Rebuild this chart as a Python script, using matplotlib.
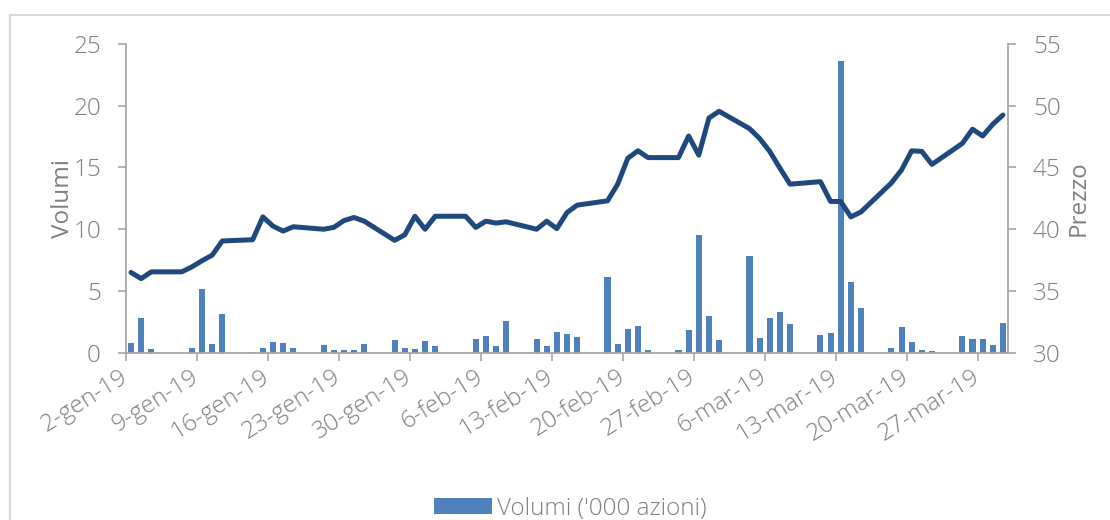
import datetime as dt
import numpy as np
import matplotlib
matplotlib.use("Agg")
import matplotlib.pyplot as plt
import matplotlib.dates as mdates
from matplotlib.lines import Line2D

# trading days (gen-mar 2019)
giorni_gen = [2, 3, 4, 7, 8, 9, 10, 11, 14, 15, 16, 17, 18, 21, 22, 23, 24, 25, 28, 29, 30, 31]
giorni_feb = [1, 4, 5, 6, 7, 8, 11, 12, 13, 14, 15, 18, 19, 20, 21, 22, 25, 26, 27, 28]
giorni_mar = [1, 4, 5, 6, 7, 8, 11, 12, 13, 14, 15, 18, 19, 20, 21, 22, 25, 26, 27, 28, 29]

prezzo = [36.5, 36.0, 36.55, 36.55, 36.95, 37.45, 37.9, 39.05, 39.15, 41.0, 40.25,
          39.85, 40.2, 40.0, 40.15, 40.7, 40.95, 40.65, 39.1, 39.55, 41.05, 40.0,
          41.05, 41.05, 40.15, 40.65, 40.5, 40.6, 40.0, 40.65, 40.05, 41.35, 41.95,
          42.3, 43.65, 45.75, 46.35, 45.8, 45.8, 47.55, 46.0, 49.0,
          49.55, 48.15, 47.35, 46.3, 44.95, 43.65, 43.85, 42.25, 42.25, 41.0, 41.4,
          43.75, 44.8, 46.35, 46.3, 45.25, 46.95, 48.1, 47.55, 48.5, 49.25]

volumi = [0.76, 2.78, 0.27, 0.0, 0.40, 5.2, 0.7, 3.1, 0.08, 0.35, 0.87, 0.76, 0.40,
          0.62, 0.22, 0.19, 0.22, 0.68, 1.0, 0.35, 0.27, 0.95,
          0.52, 0.0, 1.11, 1.38, 0.52, 2.57, 1.08, 0.57, 1.65, 1.51, 1.25, 6.15,
          0.68, 1.92, 2.14, 0.22, 0.22, 1.81, 9.53, 2.97,
          1.03, 7.85, 1.16, 2.81, 3.30, 2.30, 1.46, 1.62, 23.64, 5.72, 3.59, 0.40,
          2.06, 0.89, 0.22, 0.14, 1.38, 1.11, 1.11, 0.62, 2.40]

mesi = ["gen", "feb", "mar"]

date = ([dt.date(2019, 1, d) for d in giorni_gen] + [dt.date(2019, 2, d) for d in giorni_feb]
        + [dt.date(2019, 3, d) for d in giorni_mar])
x = mdates.date2num(date)

grigio = "#808080"
asse = "#A6A6A6"
fs = 17.5
plt.rcParams["font.family"] = ["Open Sans", "DejaVu Sans"]
plt.rcParams["font.weight"] = "light"

fig = plt.figure(figsize=(11.1, 5.2), dpi=100)
ax = fig.add_axes([0.1135, 0.3217, 0.7946, 0.5937])
ax2 = ax.twinx()

bars = ax.bar(x, volumi, width=0.6, color="#4F81BD", label="Volumi ('000 azioni)")
ax2.plot(x, prezzo, color="#1F497D", lw=3.6, solid_capstyle="round", solid_joinstyle="round")

ax.set_xlim(x[0] - 0.5, x[-1] + 0.5)
ax.set_ylim(0, 25)
ax.set_yticks(range(0, 26, 5))
ax2.set_ylim(30, 55)
ax2.set_yticks(range(30, 56, 5))

tick_date = [date[0] + dt.timedelta(days=7 * k) for k in range(13)]
ax.set_xticks(mdates.date2num(tick_date) - 0.5)
ax.set_xticklabels([f"{d.day}-{mesi[d.month - 1]}-{d.strftime('%y')}" for d in tick_date],
                   rotation=32, ha="right", va="center", rotation_mode="anchor")

for a in (ax, ax2):
    for s in a.spines.values():
        s.set_visible(False)
    a.tick_params(colors=asse, labelcolor=grigio, labelsize=fs, length=6, width=1.2)
ax.spines["left"].set_visible(True)
ax.spines["bottom"].set_visible(True)
ax2.spines["right"].set_visible(True)
for s in (ax.spines["left"], ax.spines["bottom"], ax2.spines["right"]):
    s.set_color(asse)
    s.set_linewidth(1.3)
ax.tick_params(axis="x", pad=10)
ax.tick_params(axis="y", pad=12)
ax2.tick_params(axis="y", pad=12)

ax.set_ylabel("Volumi", color=grigio, fontsize=fs, labelpad=-1)
ax2.set_ylabel("Prezzo", color=grigio, fontsize=fs, rotation=90, labelpad=4)

fig.legend(handles=[bars], loc="center", bbox_to_anchor=(0.514, 0.022), frameon=False,
           fontsize=fs, labelcolor=grigio, handlelength=2.4, handleheight=0.65,
           handletextpad=0.2)

# chart frame
fig.add_artist(Line2D([10 / 1110, 1.0], [1 - 15 / 520] * 2, color="#D9D9D9", lw=1.5))
fig.add_artist(Line2D([10 / 1110] * 2, [0.0, 1 - 15 / 520], color="#D9D9D9", lw=1.5))

fig.savefig("out.png", dpi=100)
